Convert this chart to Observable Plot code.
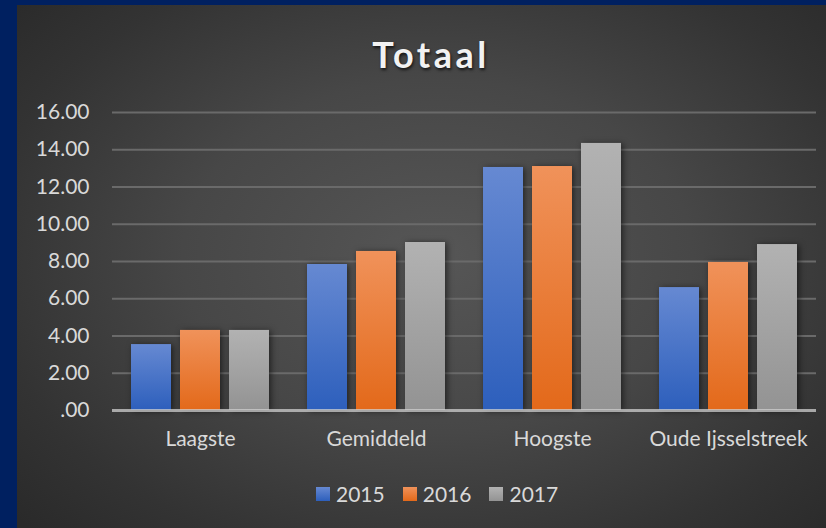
<!DOCTYPE html>
<html>
<head>
<meta charset="utf-8">
<script src="https://cdn.jsdelivr.net/npm/d3@7"></script>
<script src="https://cdn.jsdelivr.net/npm/@observablehq/plot@0.6"></script>
<style>
  html, body { margin: 0; padding: 0; background: #002060; }
  #wrap { position: relative; width: 826px; height: 528px; background: #002060; overflow: hidden; font-family: Lato, "Open Sans", sans-serif; }
  #panel { position: absolute; left: 17px; top: 5px; width: 809px; height: 523px;
    background: radial-gradient(ellipse 70% 75% at 52% 48%, #565656 0%, #474747 45%, #333 80%, #2a2a2a 100%); }
  #title { position: absolute; left: 0; width: 862px; top: 32px; text-align: center; margin: 0; line-height: 44px;
    font-family: Lato, sans-serif; font-weight: 700; font-size: 36px; letter-spacing: 3.5px; color: #f2f2f2;
    text-shadow: 1px 2px 3px rgba(0,0,0,0.7); }
  #chart { position: absolute; left: 0; top: 95px; }
  #legend { position: absolute; top: 481px; left: 316px; display: flex; align-items: center; color: #d9d9d9; font-size: 21px; font-family: Lato, sans-serif; }
  #legend .item { display: flex; align-items: center; margin-right: 18px; }
  #legend .sw { width: 14px; height: 14px; margin-right: 6px; }
</style>
</head>
<body>
<div id="wrap">
  <div id="panel"></div>
  <h1 id="title">Totaal</h1>
  <div id="chart"></div>
  <div id="legend"></div>
</div>
<script>
const categories = ["Laagste", "Gemiddeld", "Hoogste", "Oude Ijsselstreek"];
const years = ["2015", "2016", "2017"];
const v2015 = [3.54, 7.84, 13.05, 6.60];
const v2016 = [4.30, 8.54, 13.10, 7.95];
const v2017 = [4.30, 9.02, 14.34, 8.91];
const yTicks = [0, 2, 4, 6, 8, 10, 12, 14, 16];
const topColors = ["#6689d2", "#f0925a", "#b2b2b2"];
const bottomColors = ["#2d5fbc", "#e3691a", "#939393"];
const gradIds = ["g2015", "g2016", "g2017"];

const series = [v2015, v2016, v2017];
const data = [];
categories.forEach((c, i) => years.forEach((y, j) => data.push({category: c, year: y, value: series[j][i]})));

const svg = Plot.plot({
  width: 826,
  height: 365,
  marginTop: 17,
  marginBottom: 50,
  marginLeft: 112,
  marginRight: 10,
  style: {background: "transparent", color: "#d9d9d9", fontFamily: "Lato, sans-serif", fontSize: "21px", overflow: "visible"},
  fx: {domain: categories, padding: 0, round: false, label: null, axis: "bottom", tickSize: 0, tickPadding: 21},
  x: {domain: years, axis: null, paddingInner: 0.1837, paddingOuter: 0.388, round: false},
  y: {domain: [0, 16], ticks: yTicks, label: null, tickSize: 0, tickPadding: 23, tickFormat: d => d === 0 ? ".00" : d.toFixed(2)},
  color: {domain: years, range: gradIds.map(id => `url(#${id})`)},
  marks: [
    Plot.ruleY(yTicks.filter(d => d > 0), {stroke: "#6a6a6a", strokeWidth: 2}),
    Plot.barY(data, {fx: "category", x: "year", y: "value", fill: "year"}),
    Plot.ruleY([0], {stroke: "#cfcfcf", strokeOpacity: 0.75, strokeWidth: 3})
  ]
});

const defs = d3.select(svg).insert("defs", ":first-child");
gradIds.forEach((id, i) => {
  const g = defs.append("linearGradient").attr("id", id).attr("x1", 0).attr("y1", 0).attr("x2", 0).attr("y2", 1);
  g.append("stop").attr("offset", "0%").attr("stop-color", topColors[i]);
  g.append("stop").attr("offset", "100%").attr("stop-color", bottomColors[i]);
});
d3.select(svg).selectAll("g[aria-label='bar']").style("filter", "drop-shadow(2px 1px 3px rgba(0,0,0,0.55))");
document.getElementById("chart").appendChild(svg);

const legend = d3.select("#legend");
years.forEach((y, i) => {
  const it = legend.append("div").attr("class", "item");
  it.append("div").attr("class", "sw").style("background", `linear-gradient(${topColors[i]}, ${bottomColors[i]})`);
  it.append("span").text(y);
});
</script>
</body>
</html>
